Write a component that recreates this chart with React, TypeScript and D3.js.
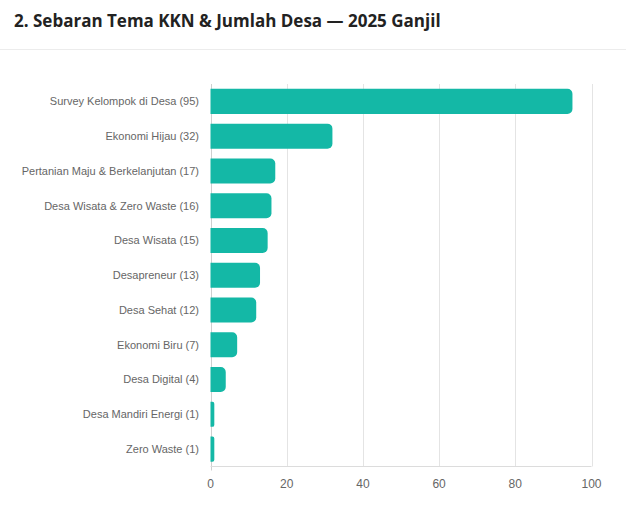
import React from "react";
import * as d3 from "d3";

const categories = [
  "Survey Kelompok di Desa (95)",
  "Ekonomi Hijau (32)",
  "Pertanian Maju & Berkelanjutan (17)",
  "Desa Wisata & Zero Waste (16)",
  "Desa Wisata (15)",
  "Desapreneur (13)",
  "Desa Sehat (12)",
  "Ekonomi Biru (7)",
  "Desa Digital (4)",
  "Desa Mandiri Energi (1)",
  "Zero Waste (1)",
];
const values = [95, 32, 17, 16, 15, 13, 12, 7, 4, 1, 1];
const xTicks = [0, 20, 40, 60, 80, 100];
const title = "2. Sebaran Tema KKN & Jumlah Desa — 2025 Ganjil";

const W = 626;
const H = 513;
const left = 210.5;
const right = 591.5;
const top = 84;
const bottom = 466.5;

function barPath(x0: number, x1: number, y0: number, h: number, r: number) {
  const w = x1 - x0;
  const rr = Math.min(r, w / 2, h / 2);
  const p = d3.path();
  p.moveTo(x0, y0);
  p.lineTo(x1 - rr, y0);
  p.arcTo(x1, y0, x1, y0 + rr, rr);
  p.lineTo(x1, y0 + h - rr);
  p.arcTo(x1, y0 + h, x1 - rr, y0 + h, rr);
  p.lineTo(x0, y0 + h);
  p.closePath();
  return p.toString();
}

export default function App() {
  const x = d3.scaleLinear().domain([0, 100]).range([left, right]);
  const y = d3
    .scaleBand<string>()
    .domain(categories)
    .range([top, bottom])
    .paddingInner(0)
    .paddingOuter(0);
  const bw = y.bandwidth();
  const bh = bw * 0.72;
  const font = "Arial, 'Liberation Sans', Helvetica, sans-serif";

  return (
    <div style={{ position: "absolute", left: 0, top: 0, width: W, height: H, background: "#fff" }}>
      <svg width={W} height={H} style={{ display: "block" }}>
        <rect x={0} y={0} width={W} height={H} fill="#fff" />
        <text
          x={14}
          y={27}
          fontFamily="'Open Sans', 'Noto Sans', sans-serif"
          fontWeight={700}
          fontSize={17}
          fill="#222"
        >
          {title}
        </text>
        <line x1={0} x2={W} y1={49.5} y2={49.5} stroke="#ececec" strokeWidth={1} />

        {xTicks.map((t) => (
          <line
            key={"g" + t}
            x1={Math.round(x(t)) + 0.5}
            x2={Math.round(x(t)) + 0.5}
            y1={top}
            y2={bottom + (t === 0 ? 4 : 0)}
            stroke={t === 0 ? "#cfcfcf" : "#e4e4e4"}
            strokeWidth={1}
          />
        ))}
        <line x1={left} x2={right} y1={bottom} y2={bottom} stroke="#dcdcdc" strokeWidth={1} />

        {categories.map((c, i) => {
          const yc = (y(c) as number) + bw / 2;
          return (
            <g key={c}>
              <path d={barPath(x(0), x(values[i]), yc - bh / 2, bh, 5)} fill="#14b8a6" />
              <text
                x={199}
                y={yc}
                dy="0.35em"
                textAnchor="end"
                fontFamily={font}
                fontSize={11}
                fill="#666"
              >
                {c}
              </text>
            </g>
          );
        })}

        {xTicks.map((t) => (
          <text
            key={"t" + t}
            x={x(t)}
            y={484}
            dy="0.35em"
            textAnchor="middle"
            fontFamily={font}
            fontSize={12}
            fill="#666"
          >
            {t}
          </text>
        ))}
      </svg>
    </div>
  );
}
